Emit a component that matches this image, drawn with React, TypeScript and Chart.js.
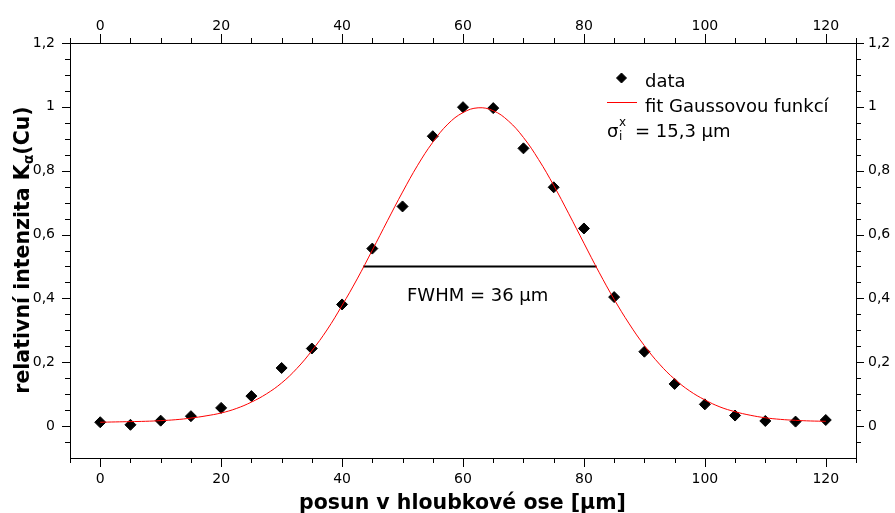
import React, { useEffect, useRef } from 'react';
import { Chart, registerables } from 'chart.js';

Chart.register(...registerables);

// ---- data ----
const positions = [0, 5, 10, 15, 20, 25, 30, 35, 40, 45, 50, 55, 60, 65, 70, 75, 80, 85, 90, 95, 100, 105, 110, 115, 120];
const intensity = [0.012, 0.004, 0.017, 0.031, 0.057, 0.094, 0.182, 0.243, 0.381, 0.556, 0.688, 0.908, 0.999, 0.996, 0.87, 0.748, 0.619, 0.404, 0.233, 0.132, 0.068, 0.033, 0.016, 0.014, 0.019];

const fitPositions = [0, 2.5, 5, 7.5, 10, 12.5, 15, 17.5, 20, 22.5, 25, 27.5, 30, 32.5, 35, 37.5, 40, 42.5, 45, 47.5, 50, 52.5, 55, 57.5, 60, 62.5, 65, 67.5, 70, 72.5, 75, 77.5, 80, 82.5, 85, 87.5, 90, 92.5, 95, 97.5, 100, 102.5, 105, 107.5, 110, 112.5, 115, 117.5, 120];
const fitValues = [0.012, 0.013, 0.014, 0.015, 0.017, 0.02, 0.025, 0.032, 0.041, 0.055, 0.075, 0.101, 0.135, 0.18, 0.236, 0.301, 0.378, 0.461, 0.551, 0.643, 0.733, 0.817, 0.889, 0.946, 0.982, 0.997, 0.988, 0.956, 0.904, 0.835, 0.754, 0.665, 0.573, 0.482, 0.397, 0.32, 0.252, 0.194, 0.147, 0.11, 0.082, 0.06, 0.045, 0.034, 0.026, 0.021, 0.018, 0.016, 0.015];

const fwhmEnds = [43.5, 82.1];
const fwhmLevel = 0.5;

const xTickValues = [0, 20, 40, 60, 80, 100, 120];
const yTickValues = [0, 0.2, 0.4, 0.6, 0.8, 1, 1.2];

const X_MIN = -5;
const X_MAX = 125;
const X_MINOR = 5;
const X_MAJOR = 20;
const Y_MIN = -0.1;
const Y_MAX = 1.2;
const Y_MINOR = 0.05;
const Y_MAJOR_EVERY = 4;

const xTitle = 'posun v hloubkové ose [µm]';
const yTitleMain = 'relativní intenzita K';
const yTitleSub = 'α';
const yTitleEnd = '(Cu)';
const legendData = 'data';
const legendFit = 'fit Gaussovou funkcí';
const sigmaMain = 'σ';
const sigmaSub = 'i';
const sigmaSup = 'x';
const sigmaValue = '= 15,3 µm';
const fwhmLabel = 'FWHM = 36 µm';

const FONT = '"DejaVu Sans", Verdana, sans-serif';

const fmtY = (v: number) => String(Number(Number(v).toFixed(1))).replace('.', ',');

const decorPlugin = {
  id: 'decor',
  afterDraw(chart: any) {
    const ctx = chart.ctx as CanvasRenderingContext2D;
    const { top, bottom, left, right } = chart.chartArea;
    const xs = chart.scales.x;
    const xt = chart.scales.x2;
    const yl = chart.scales.y;
    const yr = chart.scales.y2;
    ctx.save();
    ctx.strokeStyle = '#000';
    ctx.lineWidth = 1;
    ctx.beginPath();
    const nX = Math.round((X_MAX - X_MIN) / X_MINOR);
    for (let i = 0; i <= nX; i++) {
      const v = X_MIN + i * X_MINOR;
      const major = Math.abs(v % X_MAJOR) < 1e-9;
      const len = major ? 9 : 5;
      const pb = Math.round(xs.getPixelForValue(v)) + 0.5;
      ctx.moveTo(pb, bottom);
      ctx.lineTo(pb, bottom + len);
      const pt = Math.round(xt.getPixelForValue(v)) + 0.5;
      ctx.moveTo(pt, top);
      ctx.lineTo(pt, top - len);
    }
    const iStart = Math.round(Y_MIN / Y_MINOR) + 1;
    const iEnd = Math.round(Y_MAX / Y_MINOR);
    for (let i = iStart; i <= iEnd; i++) {
      const v = i * Y_MINOR;
      const major = i % Y_MAJOR_EVERY === 0;
      const len = major ? 8 : 5;
      const pl = Math.round(yl.getPixelForValue(v)) + 0.5;
      ctx.moveTo(left, pl);
      ctx.lineTo(left - len, pl);
      const pr = Math.round(yr.getPixelForValue(v)) + 0.5;
      ctx.moveTo(right, pr);
      ctx.lineTo(right + len, pr);
    }
    ctx.stroke();

    ctx.fillStyle = '#000';
    ctx.textBaseline = 'alphabetic';

    // x title
    ctx.font = `bold 20.5px ${FONT}`;
    ctx.textAlign = 'center';
    ctx.fillText(xTitle, 462.5, 509);

    // y title (rotated, with subscript)
    ctx.save();
    ctx.translate(0, 250);
    ctx.rotate(-Math.PI / 2);
    ctx.textAlign = 'left';
    const bigFont = `bold 20.5px ${FONT}`;
    const smallFont = `bold 14px ${FONT}`;
    ctx.font = bigFont;
    const w1 = ctx.measureText(yTitleMain).width;
    const w3 = ctx.measureText(yTitleEnd).width;
    ctx.font = smallFont;
    const w2 = ctx.measureText(yTitleSub).width;
    let xs0 = -(w1 + w2 + w3) / 2;
    ctx.font = bigFont;
    ctx.fillText(yTitleMain, xs0, 29);
    xs0 += w1;
    ctx.font = smallFont;
    ctx.fillText(yTitleSub, xs0, 33);
    xs0 += w2;
    ctx.font = bigFont;
    ctx.fillText(yTitleEnd, xs0, 29);
    ctx.restore();

    // legend
    ctx.textAlign = 'left';
    ctx.font = `18px ${FONT}`;
    const dx = 621.5, dy = 78, dr = 5;
    ctx.beginPath();
    ctx.moveTo(dx, dy - dr);
    ctx.lineTo(dx + dr, dy);
    ctx.lineTo(dx, dy + dr);
    ctx.lineTo(dx - dr, dy);
    ctx.closePath();
    ctx.fill();
    ctx.stroke();
    ctx.fillText(legendData, 645, 86.5);
    ctx.strokeStyle = '#ff0000';
    ctx.beginPath();
    ctx.moveTo(607, 102.5);
    ctx.lineTo(637, 102.5);
    ctx.stroke();
    ctx.fillText(legendFit, 645, 111.5);
    ctx.fillText(sigmaMain, 607, 136.5);
    const sw = ctx.measureText(sigmaMain).width;
    ctx.font = `12px ${FONT}`;
    ctx.fillText(sigmaSub, 607 + sw + 0.5, 140);
    ctx.fillText(sigmaSup, 607 + sw + 0.5, 126);
    ctx.font = `18px ${FONT}`;
    ctx.fillText(sigmaValue, 635, 136.5);

    // FWHM label
    ctx.fillText(fwhmLabel, 407, 301);
    ctx.restore();
  },
};

export default function App() {
  const canvasRef = useRef<HTMLCanvasElement | null>(null);

  useEffect(() => {
    const canvas = canvasRef.current;
    if (!canvas) return;
    const tickFont = { family: FONT, size: 14 };
    const commonX = {
      type: 'linear' as const,
      axis: 'x' as const,
      min: X_MIN,
      max: X_MAX,
      grid: { display: false, drawTicks: false },
      border: { display: true, color: '#000', width: 1 },
      afterBuildTicks: (s: any) => {
        s.ticks = xTickValues.map((value) => ({ value }));
      },
    };
    const commonY = {
      type: 'linear' as const,
      axis: 'y' as const,
      min: Y_MIN,
      max: Y_MAX,
      grid: { display: false, drawTicks: false },
      border: { display: true, color: '#000', width: 1 },
      afterBuildTicks: (s: any) => {
        s.ticks = yTickValues.map((value) => ({ value }));
      },
    };
    const chart = new Chart(canvas, {
      type: 'scatter',
      data: {
        datasets: [
          {
            label: 'fit Gaussovou funkcí',
            type: 'line',
            data: fitPositions.map((x, i) => ({ x, y: fitValues[i] })),
            borderColor: '#ff0000',
            borderWidth: 1,
            pointRadius: 0,
            tension: 0.4,
            showLine: true,
            fill: false,
            order: 0,
          } as any,
          {
            label: 'data',
            data: positions.map((x, i) => ({ x, y: intensity[i] })),
            pointStyle: 'rectRot',
            pointRadius: 5.5,
            backgroundColor: '#000',
            borderColor: '#000',
            borderWidth: 1,
            order: 1,
          } as any,
          {
            label: 'FWHM',
            type: 'line',
            data: fwhmEnds.map((x) => ({ x, y: fwhmLevel })),
            borderColor: '#000',
            borderWidth: 2,
            pointRadius: 0,
            showLine: true,
            fill: false,
            order: 2,
          } as any,
        ],
      },
      options: {
        responsive: false,
        animation: false,
        devicePixelRatio: 1,
        layout: { padding: 0 },
        plugins: {
          legend: { display: false },
          tooltip: { enabled: false },
          title: { display: false },
        },
        scales: {
          x: {
            ...commonX,
            position: 'bottom',
            ticks: { padding: 13, color: '#000', font: tickFont, callback: (v: any) => String(v) },
            afterFit: (s: any) => {
              s.height = 55;
            },
          },
          x2: {
            ...commonX,
            position: 'top',
            ticks: { padding: 8, color: '#000', font: tickFont, callback: (v: any) => String(v) },
            afterFit: (s: any) => {
              s.height = 43;
            },
          },
          y: {
            ...commonY,
            position: 'left',
            ticks: { padding: 15, color: '#000', font: tickFont, callback: (v: any) => fmtY(v) },
            afterFit: (s: any) => {
              s.width = 70;
            },
          },
          y2: {
            ...commonY,
            position: 'right',
            ticks: { padding: 12, color: '#000', font: tickFont, callback: (v: any) => fmtY(v) },
            afterFit: (s: any) => {
              s.width = 39;
            },
          },
        } as any,
      },
      plugins: [decorPlugin],
    });
    return () => chart.destroy();
  }, []);

  return (
    <div style={{ position: 'fixed', left: 0, top: 0, width: 895, height: 513, background: '#fff' }}>
      <canvas ref={canvasRef} width={895} height={513} style={{ display: 'block' }} />
    </div>
  );
}
